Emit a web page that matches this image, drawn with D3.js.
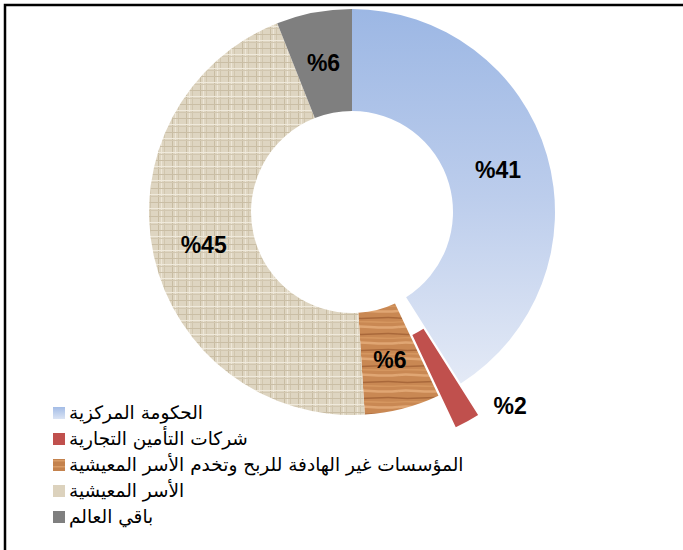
<!DOCTYPE html>
<html>
<head>
<meta charset="utf-8">
<script src="https://cdn.jsdelivr.net/npm/d3@7"></script>
<style>
    body { margin: 0; background: #fff; }
    svg { display: block; }
</style>
</head>
<body>
<script>
// categories, values and label texts
const categories = [
    "الحكومة المركزية",
    "شركات التأمين التجارية",
    "المؤسسات غير الهادفة للربح وتخدم الأسر المعيشية",
    "الأسر المعيشية",
    "باقي العالم"
];
const values = [41, 2, 6, 45, 6];
const labels = ["%41", "%2", "%6", "%45", "%6"];
const fills = ["url(#blueGrad)", "#c0504d", "url(#wood)", "url(#canvas)", "#7f7f7f"];
const legendFills = ["url(#blueLeg)", "#c0504d", "url(#woodLeg)", "#dcd2bd", "#7f7f7f"];
const exploded = [false, true, false, false, false];

const width = 683, height = 550;
const cx = 352, cy = 212;
const outerR = 203, innerR = 101;
const explode = 36;

const svg = d3.select("body").append("svg")
    .attr("width", width)
    .attr("height", height);

const defs = svg.append("defs");

// blue gradient for the central government slice (coords relative to the chart group)
const g1 = defs.append("linearGradient")
    .attr("id", "blueGrad")
    .attr("gradientUnits", "userSpaceOnUse")
    .attr("x1", 0).attr("y1", -outerR)
    .attr("x2", 0).attr("y2", outerR * 0.85);
g1.append("stop").attr("offset", 0).attr("stop-color", "#9cb7e4");
g1.append("stop").attr("offset", 0.5).attr("stop-color", "#bccdec");
g1.append("stop").attr("offset", 1).attr("stop-color", "#e4eaf6");

const g2 = defs.append("linearGradient")
    .attr("id", "blueLeg")
    .attr("x1", 0).attr("y1", 0).attr("x2", 0).attr("y2", 1);
g2.append("stop").attr("offset", 0).attr("stop-color", "#a3bce6");
g2.append("stop").attr("offset", 1).attr("stop-color", "#dbe4f4");

// wood texture
const wood = defs.append("pattern")
    .attr("id", "wood")
    .attr("patternUnits", "userSpaceOnUse")
    .attr("width", 46).attr("height", 16);
wood.append("rect").attr("width", 46).attr("height", 16).attr("fill", "#c98853");
wood.append("path").attr("d", "M0,3 C12,1 24,5 46,3").attr("stroke", "#e0a673").attr("stroke-width", 2.5).attr("fill", "none");
wood.append("path").attr("d", "M0,10 C15,12 30,8 46,10").attr("stroke", "#a9683a").attr("stroke-width", 1.6).attr("fill", "none");
wood.append("path").attr("d", "M0,14 C10,13 28,15 46,14").attr("stroke", "#d99b63").attr("stroke-width", 1.2).attr("fill", "none");

const woodLeg = defs.append("pattern")
    .attr("id", "woodLeg")
    .attr("patternUnits", "userSpaceOnUse")
    .attr("width", 12).attr("height", 6);
woodLeg.append("rect").attr("width", 12).attr("height", 6).attr("fill", "#c4824d");
woodLeg.append("rect").attr("y", 1).attr("width", 12).attr("height", 1.5).attr("fill", "#d99c66");

// canvas texture for households
const canvas = defs.append("pattern")
    .attr("id", "canvas")
    .attr("patternUnits", "userSpaceOnUse")
    .attr("width", 14).attr("height", 14);
canvas.append("rect").attr("width", 14).attr("height", 14).attr("fill", "#ded5c1");
canvas.append("rect").attr("x", 2).attr("width", 1).attr("height", 14).attr("fill", "#c8bca2");
canvas.append("rect").attr("x", 8).attr("width", 1).attr("height", 14).attr("fill", "#d1c6ae");
canvas.append("rect").attr("x", 5).attr("width", 1).attr("height", 14).attr("fill", "#ede6d7");
canvas.append("rect").attr("y", 4).attr("width", 14).attr("height", 1).attr("fill", "#cabea5");
canvas.append("rect").attr("y", 10).attr("width", 14).attr("height", 1).attr("fill", "#efe9db");
canvas.append("rect").attr("y", 12).attr("width", 14).attr("height", 1).attr("fill", "#d2c7b0");

// frame (only top and left edges are visible)
svg.append("path")
    .attr("d", `M5,${height} V5 H${width}`)
    .attr("fill", "none")
    .attr("stroke", "#000")
    .attr("stroke-width", 2.5);

const pie = d3.pie().sort(null).value(d => d);
const arcs = pie(values);
const arc = d3.arc().innerRadius(innerR).outerRadius(outerR);

const chart = svg.append("g").attr("transform", `translate(${cx},${cy})`);

function shift(d, i) {
    if (!exploded[i]) return "translate(0,0)";
    const a = (d.startAngle + d.endAngle) / 2;
    return `translate(${explode * Math.sin(a)},${-explode * Math.cos(a)})`;
}

chart.selectAll("path.slice")
    .data(arcs)
    .enter()
    .append("path")
    .attr("class", "slice")
    .attr("d", arc)
    .attr("transform", shift)
    .attr("fill", (d, i) => fills[i]);

// data labels
chart.selectAll("text.lbl")
    .data(arcs)
    .enter()
    .append("text")
    .attr("class", "lbl")
    .attr("transform", function (d, i) {
        let c = arc.centroid(d);
        if (exploded[i]) {
            //label sits outside the exploded slice
            const a = (d.startAngle + d.endAngle) / 2;
            const r = outerR + explode;
            c = [r * Math.sin(a) + 43, -r * Math.cos(a) - 16];
        }
        return `translate(${c[0]},${c[1]})`;
    })
    .attr("text-anchor", "middle")
    .attr("dy", "0.36em")
    .style("direction", "ltr")
    .style("unicode-bidi", "bidi-override")
    .style("font-family", "Arial, 'Liberation Sans', sans-serif")
    .style("font-weight", "bold")
    .style("font-size", "23px")
    .attr("fill", "#000")
    .text((d, i) => labels[i]);

// legend
const legend = svg.append("g").attr("transform", "translate(53,413)");
const row = legend.selectAll("g")
    .data(categories)
    .enter()
    .append("g")
    .attr("transform", (d, i) => `translate(0,${i * 26})`);

row.append("rect")
    .attr("x", 0).attr("y", -6)
    .attr("width", 12).attr("height", 12)
    .attr("fill", (d, i) => legendFills[i]);

row.append("text")
    .attr("x", 16)
    .attr("dy", "0.35em")
    .style("font-family", "'DejaVu Sans', sans-serif")
    .style("font-size", "18.5px")
    .attr("fill", "#000")
    .text(d => d);
</script>
</body>
</html>
